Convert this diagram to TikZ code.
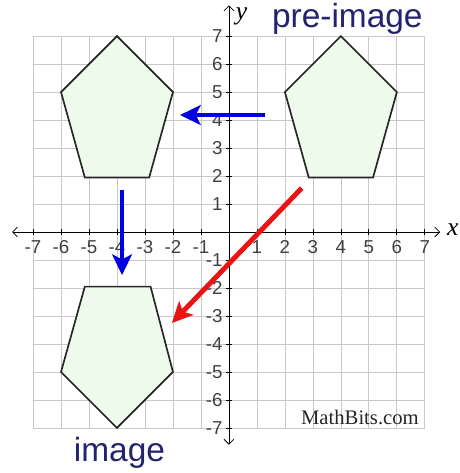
\documentclass[tikz,border=0pt]{standalone}
\usepackage{fontspec}
\setmainfont{Liberation Sans}
\newfontfamily\bitsfont{Liberation Serif}
\usetikzlibrary{arrows.meta}
\definecolor{gridgray}{RGB}{200,200,200}
\definecolor{shapefill}{RGB}{238,250,236}
\definecolor{labelnavy}{RGB}{35,35,110}
\definecolor{moveblue}{RGB}{0,0,225}
\definecolor{movered}{RGB}{235,20,20}
\begin{document}
\begin{tikzpicture}[
    gridline/.style={gridgray, line width=0.8pt},
    axis/.style={black, line width=0.8pt, {Straight Barb[length=5pt,width=10pt]}-{Straight Barb[length=5pt,width=10pt]}},
    pentagon/.style={draw=black!85, line width=1.7pt, fill=shapefill, line join=miter},
    ticknum/.style={font=\fontsize{19}{19}\selectfont, text=black!75, inner sep=0pt},
    caption/.style={font=\fontsize{34}{34}\selectfont, text=labelnavy, inner sep=0pt, anchor=base},
    varname/.style={font=\fontsize{26}{26}\selectfont\bitsfont\itshape, inner sep=0pt},
    move/.style={line width=5pt, -{Stealth[length=21pt,width=20pt,inset=5pt]}}
]
    \useasboundingbox (-8.18,-8.61) rectangle (8.25,8.29);

    % Grid and axes
    \draw[gridline] (-7,-7) grid (7,7);
    \draw[axis] (-7.75,0) -- (7.55,0);
    \draw[axis] (0,-7.6) -- (0,8.1);
    \foreach \n in {-7,...,-1,1,2,...,7} {
        \draw[black, line width=0.8pt] (\n,-0.12) -- (\n,0.12);
        \draw[black, line width=0.8pt] (-0.12,\n) -- (0.12,\n);
    }

    % Tick numbers
    \foreach \n [count=\i] in {-7,...,-1,1,2,...,7} {
        \node[ticknum] (xt\i) at (\n,-0.54) {\n};
        \node[ticknum, anchor=east] (yt\i) at (-0.22,\n) {\n};
    }
    \node[varname] (xlabel) at (8.0,0.1) {x};
    \node[varname] (ylabel) at (0.45,7.72) {y};

    % Pre-image, shifted copy and image
    \draw[pentagon] (4,7) -- (6,5) -- (5.15,1.95) -- (2.85,1.95) -- (2,5) -- cycle;
    \draw[pentagon] (-4,7) -- (-2,5) -- (-2.85,1.95) -- (-5.15,1.95) -- (-6,5) -- cycle;
    \draw[pentagon] (-4,-7) -- (-2,-5) -- (-2.8,-1.95) -- (-5.15,-1.95) -- (-6,-5) -- cycle;

    % Labels
    \node[caption] (preimage) at (4.23,7.29) {pre-image};
    \node[caption] (image) at (-3.91,-8.21) {image};
    \node[font=\fontsize{21}{21}\selectfont\bitsfont, text=black!85, inner sep=0pt, anchor=base] (site) at (4.68,-6.86) {MathBits.com};

    % Arrows
    \coordinate (leftstart) at (1.29,4.18);
    \coordinate (leftend) at (-1.75,4.18);
    \coordinate (downstart) at (-3.82,1.5);
    \coordinate (downend) at (-3.82,-1.54);
    \coordinate (slidestart) at (2.6,1.57);
    \coordinate (slideend) at (-2.04,-3.25);
    \draw[move, moveblue] (leftstart) -- (leftend);
    \draw[move, moveblue] (downstart) -- (downend);
    \draw[move, movered] (slidestart) -- (slideend);

\end{tikzpicture}
\end{document}
